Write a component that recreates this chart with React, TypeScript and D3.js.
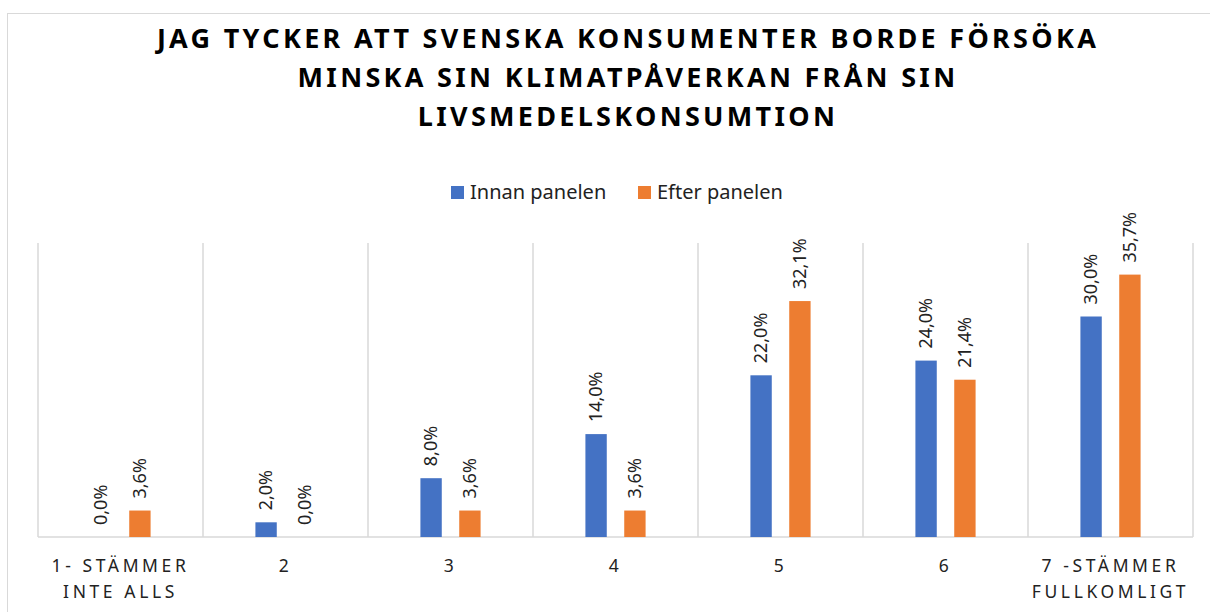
import { useEffect, useRef } from "react";
import * as d3 from "d3";

// chart data
const categories = ["1- STÄMMER\nINTE ALLS", "2", "3", "4", "5", "6", "7 -STÄMMER\nFULLKOMLIGT"];
const innan = [0, 2.0, 8.0, 14.0, 22.0, 24.0, 30.0];
const efter = [3.6, 0, 3.6, 3.6, 32.1, 21.4, 35.7];
const seriesNames = ["Innan panelen", "Efter panelen"];
const titleLines = [
  "JAG TYCKER ATT SVENSKA KONSUMENTER BORDE FÖRSÖKA",
  "MINSKA SIN KLIMATPÅVERKAN FRÅN SIN",
  "LIVSMEDELSKONSUMTION",
];

const colors = ["#4472C4", "#ED7D31"];
const font = "'Noto Sans', 'Open Sans', sans-serif";

const App = () => {
  const svgRef = useRef<SVGSVGElement>(null);

  useEffect(() => {
    const width = 1210;
    const height = 612;
    const margin = { top: 243, right: 17, bottom: 75, left: 38 };

    d3.select(svgRef.current).selectAll("*").remove();
    const svg = d3.select(svgRef.current).attr("width", width).attr("height", height);

    // outer border
    svg
      .append("rect")
      .attr("x", 7.5)
      .attr("y", 13.5)
      .attr("width", 1230)
      .attr("height", 700)
      .attr("fill", "#fff")
      .attr("stroke", "#d9d9d9");

    // title
    svg
      .append("g")
      .selectAll("text")
      .data(titleLines)
      .enter()
      .append("text")
      .attr("x", 628)
      .attr("y", (d, i) => 48 + i * 39)
      .attr("text-anchor", "middle")
      .attr("font-family", font)
      .attr("font-weight", "bold")
      .attr("font-size", 27)
      .attr("letter-spacing", 3.3)
      .attr("fill", "#000")
      .text((d) => d);

    // legend
    const legendX = [451, 638];
    const legend = svg.append("g");
    seriesNames.forEach((name, i) => {
      legend
        .append("rect")
        .attr("x", legendX[i])
        .attr("y", 186)
        .attr("width", 13)
        .attr("height", 13)
        .attr("fill", colors[i]);
      legend
        .append("text")
        .attr("x", legendX[i] + 19)
        .attr("y", 199)
        .attr("font-family", font)
        .attr("font-size", 20)
        .attr("fill", "#222")
        .text(name);
    });

    const plotW = width - margin.left - margin.right;
    const plotH = height - margin.top - margin.bottom;
    const g = svg.append("g").attr("transform", `translate(${margin.left},${margin.top})`);

    const x0 = d3.scaleBand().domain(categories).range([0, plotW]);
    const x1 = d3.scaleBand().domain(seriesNames).range([0, x0.bandwidth()]).paddingInner(0.45).paddingOuter(1.35);
    const y = d3.scaleLinear().domain([0, 40]).range([plotH, 0]);

    // vertical gridlines at category boundaries
    const bounds = d3.range(categories.length + 1).map((i) => i * x0.bandwidth());
    g.selectAll(".grid")
      .data(bounds)
      .enter()
      .append("line")
      .attr("x1", (d) => d)
      .attr("x2", (d) => d)
      .attr("y1", 0)
      .attr("y2", plotH)
      .attr("stroke", "#d9d9d9")
      .attr("stroke-width", 1.5);

    // baseline
    g.append("line")
      .attr("x1", 0)
      .attr("x2", plotW)
      .attr("y1", plotH)
      .attr("y2", plotH)
      .attr("stroke", "#d9d9d9")
      .attr("stroke-width", 1.5);

    const rows = categories.map((c, i) => ({ cat: c, values: [innan[i], efter[i]] }));
    const groups = g
      .selectAll(".cat")
      .data(rows)
      .enter()
      .append("g")
      .attr("transform", (d) => `translate(${x0(d.cat)},0)`);

    groups
      .selectAll("rect")
      .data((d) => d.values.map((v, i) => ({ v, s: seriesNames[i], i })))
      .enter()
      .append("rect")
      .attr("x", (d) => x1(d.s)!)
      .attr("y", (d) => y(d.v))
      .attr("width", x1.bandwidth())
      .attr("height", (d) => plotH - y(d.v))
      .attr("fill", (d) => colors[d.i]);

    // rotated value labels
    groups
      .selectAll(".lbl")
      .data((d) => d.values.map((v, i) => ({ v, s: seriesNames[i] })))
      .enter()
      .append("text")
      .attr("transform", (d) => `translate(${x1(d.s)! + x1.bandwidth() / 2},${y(d.v) - 12}) rotate(-90)`)
      .attr("dy", "0.35em")
      .attr("font-family", font)
      .attr("font-size", 18)
      .attr("fill", "#222")
      .text((d) => d.v.toFixed(1).replace(".", ",") + "%");

    // category labels
    groups
      .append("text")
      .attr("x", x0.bandwidth() / 2)
      .attr("y", plotH + 35)
      .attr("text-anchor", "middle")
      .attr("font-family", font)
      .attr("font-size", 17.5)
      .attr("letter-spacing", 3.6)
      .attr("fill", "#222")
      .selectAll("tspan")
      .data((d) => d.cat.split("\n"))
      .enter()
      .append("tspan")
      .attr("x", x0.bandwidth() / 2)
      .attr("dy", (d, i) => (i === 0 ? 0 : 26))
      .text((d) => d);
  }, []);

  return <svg ref={svgRef} style={{ position: "absolute", left: 0, top: 0 }}></svg>;
};

export default App;
